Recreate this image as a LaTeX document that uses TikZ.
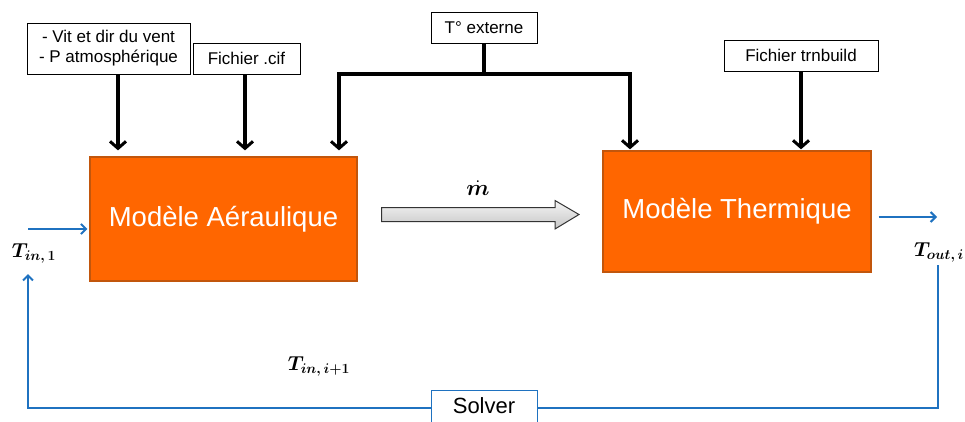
\documentclass[tikz,border=0pt]{standalone}
\usepackage{amsmath}
\usepackage{bm}
\usepackage{fontspec}
\setmainfont{Liberation Sans}
\usetikzlibrary{arrows.meta}
\definecolor{orangebox}{HTML}{FF6600}
\definecolor{orangeedge}{HTML}{C2560C}
\definecolor{flowblue}{HTML}{1F72C0}
\newcommand{\mlabel}[2]{\scalebox{#1}{$\bm{#2}$}}
\begin{document}
\begin{tikzpicture}[x=1pt,y=-1pt,
  inbox/.style={draw=black, line width=1pt, fill=white, font=\fontsize{17}{20}\selectfont, inner sep=0pt, align=center, minimum height=31pt},
  model/.style={draw=orangeedge, line width=1.3pt, fill=orangebox, text=white, font=\fontsize{27.5}{32}\selectfont, inner sep=0pt},
  feed/.style={-{Straight Barb[length=7pt,width=16pt,line width=3pt]}, line width=3.5pt, line cap=butt, line join=miter},
  thickline/.style={line width=3.5pt, line join=miter},
  bluearrow/.style={-{Straight Barb[length=5pt,width=10pt,line width=2pt]}, draw=flowblue, line width=2.5pt, line join=miter},
  blueline/.style={draw=flowblue, line width=2.5pt, line join=miter},
  mathlab/.style={font=\fontsize{17.28}{20}\selectfont, inner sep=0pt}]
\useasboundingbox (0,0) rectangle (965,421);

% input boxes
\node[inbox, minimum width=163pt, minimum height=51pt] (vit) at (108.5,48.5) {- Vit et dir du vent\\- P atmosphérique};
\node[inbox, minimum width=107pt] (cif) at (246.5,58.5) {Fichier .cif};
\node[inbox, minimum width=106pt] (text) at (484,27.5) {T° externe};
\node[inbox, minimum width=154pt] (trn) at (801,55.5) {Fichier trnbuild};

% models
\node[model, minimum width=267pt, minimum height=124pt] (aero) at (223.5,219) {Modèle Aéraulique};
\node[model, minimum width=268pt, minimum height=121pt] (thermo) at (737,211.5) {Modèle Thermique};

% solver
\node[draw=flowblue, line width=1pt, fill=white, minimum width=106pt, minimum height=36pt, inner sep=0pt, font=\fontsize{22}{26}\selectfont] (solver) at (484,408) {\raisebox{4pt}{Solver}};

% black input arrows
\draw[feed, shorten >=6pt] ([xshift=9.5pt]vit.south) -- ([xshift=-105.5pt]aero.north);
\draw[feed, shorten >=6pt] ([xshift=-1.5pt]cif.south) -- ([xshift=21.5pt]aero.north);
\coordinate (tj) at (484,74);
\draw[thickline] (text.south) -- (tj);
\draw[feed, shorten >=6pt] (tj) -| ([xshift=115.5pt]aero.north);
\draw[feed, shorten >=1pt] (tj) -| ([xshift=-107pt]thermo.north);
\draw[feed, shorten >=1pt] (trn.south) -- (thermo.north -| trn.south);

% mass flow arrow
\shade[top color=gray!8, bottom color=gray!45, draw=black!80, line width=1pt]
  (381.5,207.5) -- (555,207.5) -- (555,200.5) -- (579,214.5) -- (555,229) -- (555,221.5) -- (381.5,221.5) -- cycle;
\node[mathlab] (mdot) at (478,188) {\mlabel{1.3}{\dot m}};

% blue flows
\coordinate (in1) at (28,229);
\draw[bluearrow, shorten >=2pt] (in1) -- (in1 -| aero.west);
\coordinate (out1) at (937,217);
\draw[bluearrow] ([xshift=7pt]out1 -| thermo.east) -- (out1);
\coordinate (cout) at (938,265);
\coordinate (cin) at (28,274);
\draw[blueline] (cout) |- (solver.east);
\draw[bluearrow] (solver.west) -| (cin);

% labels
\node[mathlab] (tin1) at (34,253) {\mlabel{1.17}{T_{in,\,1}}};
\node[mathlab] (touti) at (939,252) {\mlabel{1.17}{T_{out,\,i}}};
\node[mathlab] (tini) at (319,366) {\mlabel{1.17}{T_{in,\,i+1}}};
\end{tikzpicture}
\end{document}
